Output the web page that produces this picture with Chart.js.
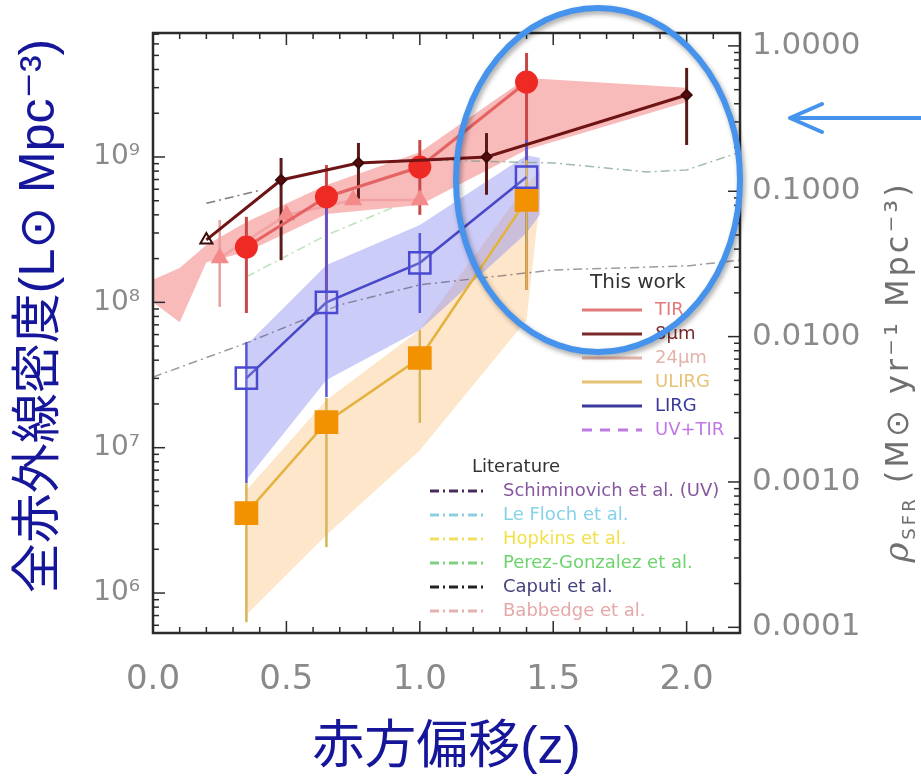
<!DOCTYPE html>
<html>
<head>
<meta charset="utf-8">
<script src="https://cdn.jsdelivr.net/npm/chart.js@4.4.1/dist/chart.umd.min.js"></script>
<style>
  html, body { margin: 0; padding: 0; background: #fff; }
  #wrap { position: relative; width: 921px; height: 782px; }
</style>
</head>
<body>
<div id="wrap"><canvas id="chart" width="921" height="782"></canvas></div>
<script>
// This work: luminosity density per redshift bin (L_sun Mpc^-3)
const zTIR = [0.35, 0.65, 1.0, 1.4];
const lumTIR = [2.40e8, 5.31e8, 8.53e8, 3.28e9];
const lumTIRHi = [3.87e8, 8.8e8, 1.31e9, 5.2e9];
const lumTIRLo = [8.45e7, 1.04e8, 4.0e8, 1.22e8];

const z8um = [0.2, 0.48, 0.77, 1.0, 1.25, 2.0];
const lum8um = [2.69e8, 6.95e8, 9.1e8, 9.5e8, 1.0e9, 2.67e9];
const lum8umHi = [null, 9.84e8, 1.25e9, null, 1.46e9, 4.1e9];
const lum8umLo = [null, 1.95e8, 4.8e8, null, 5.5e8, 1.21e9];

const z24um = [0.25, 0.5, 0.75, 1.0];
const lum24um = [2.02e8, 3.99e8, 5.06e8, 5.06e8];
const lum24umHi = [3.69e8, null, null, null];
const lum24umLo = [9.3e7, null, null, null];

const zIR = [0.35, 0.65, 1.0, 1.4];
const lumLIRG = [3.01e7, 1.0e8, 1.87e8, 7.28e8];
const lumLIRGHi = [5.33e7, 4.5e8, 3.0e8, 1.31e9];
const lumLIRGLo = [5.71e6, 2.23e7, 8.45e7, 2.48e8];
const lumULIRG = [3.55e6, 1.5e7, 4.14e7, 5.06e8];
const lumULIRGHi = [5.7e6, 2.2e7, 6.46e7, 9.5e8];
const lumULIRGLo = [6.3e5, 2.07e6, 1.48e7, 1.22e8];

// shaded uncertainty regions
const zBandTIR = [0, 0.1, 0.2, 0.35, 0.65, 1.0, 1.4, 2.0];
const bandTIRHi = [1.43e8, 1.72e8, 2.48e8, 3.57e8, 6.41e8, 1.08e9, 3.5e9, 2.99e9];
const bandTIRLo = [1.0e8, 7.3e7, 1.89e8, 2.22e8, 4.06e8, 4.68e8, 1.12e9, 2.39e9];
const zBandIR = [0.35, 0.65, 1.0, 1.4, 1.45];
const bandLIRGHi = [5.08e7, 1.81e8, 3.4e8, 1.03e9, 9.84e8];
const bandLIRGLo = [6.0e6, 2.92e7, 6.46e7, 3.0e8, 4.0e8];
const bandULIRGHi = [5.1e6, 2.13e7, 6.46e7, 6.4e8, 8.15e8];
const bandULIRGLo = [7.1e5, 2.51e6, 9.6e6, 7.55e7, 5.06e8];

// literature curves
const zSchim = [0, 0.35, 0.7, 1.0, 1.5, 2.0, 2.2];
const lumSchim = [3.06e7, 5.25e7, 9.6e7, 1.32e8, 1.67e8, 1.78e8, 1.95e8];
const zLeFloch = [1.05, 1.5, 1.85, 2.0, 2.2];
const lumLeFloch = [9.5e8, 9.1e8, 7.9e8, 8.15e8, 1.08e9];
const zCaputi = [0.2, 0.4];
const lumCaputi = [4.8e8, 5.9e8];
const zPerez = [0.35, 0.65, 0.9];
const lumPerez = [1.5e8, 2.9e8, 4.5e8];

// axes
const xTickValues = [0, 0.5, 1.0, 1.5, 2.0];
const xTickLabels = ['0.0', '0.5', '1.0', '1.5', '2.0'];
const yTickValues = [1e6, 1e7, 1e8, 1e9];
const yTickLabels = ['10\u2076', '10\u2077', '10\u2078', '10\u2079'];
const sfrTickValues = [1e-4, 1e-3, 1e-2, 1e-1, 1];
const sfrTickLabels = ['0.0001', '0.0010', '0.0100', '0.1000', '1.0000'];

// legend text
const workLabels = ['TIR', '8\u00b5m', '24\u00b5m', 'ULIRG', 'LIRG', 'UV+TIR'];
const workColors = ['#e07a7a', '#7a2a2a', '#e2b4aa', '#e6c274', '#3a3a9c', '#c078e6'];
const litLabels = ['Schiminovich et al. (UV)', 'Le Floch et al.', 'Hopkins et al.', 'Perez-Gonzalez et al.', 'Caputi et al.', 'Babbedge et al.'];
const litColors = ['#86579e', '#86d2e8', '#f2e04a', '#6cd46c', '#43437e', '#e6a8a8'];
const litLineColors = ['#4a2a5a', '#8ccfe0', '#f0e060', '#80d080', '#222222', '#e6b0b0'];

const TICK_FONT = 'DejaVu Sans';
const TITLE_FONT = '"Liberation Sans", "DejaVu Sans", "Noto Sans CJK JP", sans-serif';
const TITLE_COLOR = '#16169a';
const Y_TITLE = '全赤外線密度(L\u2299 Mpc\u207b\u00b3)';

function series(label, xs, ys, extra) {
    return Object.assign({
        label: label,
        data: xs.map((x, i) => ({ x: x, y: ys[i] })),
        showLine: true,
        fill: false,
        tension: 0,
        pointRadius: 0,
        borderWidth: 2,
        borderColor: 'rgba(0,0,0,0)'
    }, extra);
}

function errorBars(xs, lo, hi, color, width) {
    const out = [];
    xs.forEach((x, i) => {
        if (lo[i] == null) return;
        out.push(series('err', [x, x], [lo[i], hi[i]], { borderColor: color, borderWidth: width, order: 6 }));
    });
    return out;
}

const dash = [9, 4, 2, 4];

const datasets = [
    // bands (upper fills down to the next dataset)
    series('TIR band', zBandTIR, bandTIRHi, { fill: '+1', backgroundColor: 'rgba(243,118,118,0.5)', borderWidth: 0, order: 20 }),
    series('TIR band lo', zBandTIR, bandTIRLo, { borderWidth: 0, order: 20 }),
    series('LIRG band', zBandIR, bandLIRGHi, { fill: '+1', backgroundColor: 'rgba(142,142,240,0.45)', borderWidth: 0, order: 21 }),
    series('LIRG band lo', zBandIR, bandLIRGLo, { borderWidth: 0, order: 21 }),
    series('ULIRG band', zBandIR, bandULIRGHi, { fill: '+1', backgroundColor: 'rgba(252,200,140,0.45)', borderWidth: 0, order: 22 }),
    series('ULIRG band lo', zBandIR, bandULIRGLo, { borderWidth: 0, order: 22 }),

    // literature
    series('Schiminovich', zSchim, lumSchim, { borderColor: 'rgba(80,70,90,0.55)', borderWidth: 1.5, borderDash: dash, order: 10 }),
    series('Le Floch', zLeFloch, lumLeFloch, { borderColor: 'rgba(120,160,140,0.7)', borderWidth: 1.5, borderDash: dash, order: 10 }),
    series('Caputi', zCaputi, lumCaputi, { borderColor: 'rgba(40,40,40,0.6)', borderWidth: 1.5, borderDash: dash, order: 10 }),
    series('Perez-Gonzalez', zPerez, lumPerez, { borderColor: 'rgba(120,200,120,0.5)', borderWidth: 1.5, borderDash: dash, order: 10 }),

    // error bars
    ...errorBars(zIR, lumULIRGLo, lumULIRGHi, '#d8b458', 2.5),
    ...errorBars(zIR, lumLIRGLo, lumLIRGHi, '#5656d6', 2.5),
    ...errorBars(z24um, lum24umLo, lum24umHi, '#e6a0a0', 2.5),
    ...errorBars(zTIR, lumTIRLo, lumTIRHi, '#c84848', 3),
    ...errorBars(z8um, lum8umLo, lum8umHi, '#5a1a1a', 3),

    // this work
    series('ULIRG', zIR, lumULIRG, { borderColor: '#e4b23e', borderWidth: 2.5, pointRadius: 15, pointStyle: 'rect', pointBackgroundColor: '#f39200', pointBorderColor: '#f39200', order: 4 }),
    series('LIRG', zIR, lumLIRG, { borderColor: '#4848c8', borderWidth: 2.5, pointRadius: 15, pointStyle: 'rect', pointBackgroundColor: 'rgba(255,255,255,0.15)', pointBorderColor: '#4a4ad0', pointBorderWidth: 2.5, order: 3 }),
    series('24um', z24um, lum24um, { borderColor: '#f2a2a2', borderWidth: 2.5, pointRadius: 8, pointStyle: 'triangle', pointBackgroundColor: '#f48a8a', pointBorderColor: '#f48a8a', order: 3 }),
    series('TIR', zTIR, lumTIR, { borderColor: '#e46464', borderWidth: 3, pointRadius: 10, pointBackgroundColor: '#ee2a24', pointBorderColor: '#ee2a24', order: 2 }),
    series('8um', z8um, lum8um, { borderColor: '#6e1414', borderWidth: 3, pointRadius: [7, 5, 5, 0, 5, 5], pointStyle: ['triangle', 'rectRot', 'rectRot', 'rectRot', 'rectRot', 'rectRot'], pointBackgroundColor: ['rgba(0,0,0,0)', '#5a0a0a', '#5a0a0a', '#5a0a0a', '#5a0a0a', '#5a0a0a'], pointBorderColor: '#3a0a0a', pointBorderWidth: 2, order: 1 })
];

const frameTicks = {
    id: 'frameTicks',
    afterDatasetsDraw(chart) {
        const { ctx, chartArea: a, scales } = chart;
        ctx.save();
        ctx.strokeStyle = '#2b2b2b';
        ctx.lineWidth = 1.5;
        for (let k = 0; k <= 22; k++) {
            const px = scales.x.getPixelForValue(k / 10);
            const len = k % 5 === 0 ? 12 : 6;
            ctx.beginPath();
            ctx.moveTo(px, a.bottom); ctx.lineTo(px, a.bottom - len);
            ctx.moveTo(px, a.top); ctx.lineTo(px, a.top + len);
            ctx.stroke();
        }
        const logTicks = (scale, x0, dir, dMin, dMax) => {
            for (let d = dMin; d <= dMax; d++) {
                for (let m = 1; m <= 9; m++) {
                    const v = m * Math.pow(10, d);
                    if (v < scale.min || v > scale.max) continue;
                    const py = scale.getPixelForValue(v);
                    const len = m === 1 ? 12 : 6;
                    ctx.beginPath();
                    ctx.moveTo(x0, py); ctx.lineTo(x0 + dir * len, py);
                    ctx.stroke();
                }
            }
        };
        logTicks(scales.y, a.left, 1, 5, 9);
        logTicks(scales.y2, a.right, -1, -5, 0);
        ctx.lineWidth = 2.5;
        ctx.strokeRect(a.left, a.top, a.right - a.left, a.bottom - a.top);
        ctx.restore();
    }
};

const overlay = {
    id: 'overlay',
    afterDraw(chart) {
        const { ctx, chartArea: a } = chart;
        ctx.save();

        // legend: this work
        ctx.textBaseline = 'middle';
        ctx.font = '20px DejaVu Sans';
        ctx.fillStyle = '#333';
        ctx.fillText('This work', a.left + 437, a.top + 250);
        ctx.font = '18px DejaVu Sans';
        workLabels.forEach((lab, i) => {
            const y = a.top + 277 + i * 24;
            ctx.strokeStyle = workColors[i];
            ctx.lineWidth = 3;
            ctx.setLineDash(i === 5 ? [10, 8] : []);
            ctx.beginPath(); ctx.moveTo(a.left + 429, y); ctx.lineTo(a.left + 489, y); ctx.stroke();
            ctx.fillStyle = workColors[i];
            ctx.fillText(lab, a.left + 502, y);
        });

        // legend: literature
        ctx.save();
        ctx.beginPath();
        ctx.rect(a.left, a.top, a.right - a.left - 1, a.bottom - a.top);
        ctx.clip();
        ctx.fillStyle = '#333';
        ctx.font = '18px DejaVu Sans';
        ctx.fillText('Literature', a.left + 319, a.top + 434);
        litLabels.forEach((lab, i) => {
            const y = a.top + 458 + i * 24;
            ctx.strokeStyle = litLineColors[i];
            ctx.lineWidth = 3;
            ctx.setLineDash([9, 4, 2, 4]);
            ctx.beginPath(); ctx.moveTo(a.left + 277, y); ctx.lineTo(a.left + 330, y); ctx.stroke();
            ctx.fillStyle = litColors[i];
            ctx.fillText(lab, a.left + 350, y);
        });
        ctx.restore();
        ctx.setLineDash([]);

        // left axis title (reads bottom to top)
        ctx.save();
        ctx.translate(40, 316);
        ctx.rotate(-Math.PI / 2);
        ctx.fillStyle = TITLE_COLOR;
        ctx.textAlign = 'center';
        ctx.textBaseline = 'middle';
        ctx.font = '50px ' + TITLE_FONT;
        ctx.fillText(Y_TITLE, 0, 0);
        ctx.restore();

        // right axis title (reads bottom to top)
        ctx.save();
        ctx.translate(897, 372);
        ctx.rotate(-Math.PI / 2);
        ctx.fillStyle = '#707070';
        ctx.textBaseline = 'alphabetic';
        ctx.letterSpacing = '3px';
        const parts = [
            { t: '\u03c1', f: 'italic 34px DejaVu Serif', dy: 0 },
            { t: 'SFR', f: '18px DejaVu Sans', dy: 7 },
            { t: ' (M\u2299 yr\u207b\u00b9 Mpc\u207b\u00b3)', f: '32px DejaVu Sans', dy: 0 }
        ];
        let total = 0;
        parts.forEach(p => { ctx.font = p.f; p.w = ctx.measureText(p.t).width; total += p.w; });
        let x = -total / 2;
        parts.forEach(p => { ctx.font = p.f; ctx.fillText(p.t, x, 11 + p.dy); x += p.w; });
        ctx.restore();

        // highlight ellipse and arrow
        ctx.save();
        ctx.shadowColor = 'rgba(0,0,0,0.35)';
        ctx.shadowBlur = 5;
        ctx.shadowOffsetX = 2;
        ctx.shadowOffsetY = 3;
        ctx.strokeStyle = '#4593ec';
        ctx.lineWidth = 6;
        ctx.beginPath();
        ctx.ellipse(598, 180, 142, 172, 0, 0, Math.PI * 2);
        ctx.stroke();
        ctx.restore();

        ctx.strokeStyle = '#4593ec';
        ctx.lineWidth = 4;
        ctx.lineCap = 'round';
        ctx.lineJoin = 'round';
        ctx.beginPath();
        ctx.moveTo(921, 118); ctx.lineTo(790, 118);
        ctx.moveTo(822, 104); ctx.lineTo(790, 118); ctx.lineTo(822, 132);
        ctx.stroke();
        ctx.restore();
    }
};

new Chart(document.getElementById('chart').getContext('2d'), {
    type: 'line',
    data: { datasets: datasets },
    plugins: [frameTicks, overlay],
    options: {
        responsive: false,
        animation: false,
        layout: { padding: { top: 33, left: 0, right: 0, bottom: 0 } },
        plugins: { legend: { display: false }, tooltip: { enabled: false } },
        scales: {
            x: {
                type: 'linear', position: 'bottom', min: 0, max: 2.2,
                afterFit: s => { s.height = 149; },
                afterBuildTicks: s => { s.ticks = xTickValues.map(v => ({ value: v })); },
                grid: { display: false, drawTicks: false },
                border: { display: false },
                ticks: {
                    callback: (v, i) => xTickLabels[i],
                    color: '#8a8a8a', font: { family: TICK_FONT, size: 34 },
                    padding: 27, maxRotation: 0, autoSkip: false
                },
                title: {
                    display: true, text: '赤方偏移(z)', color: TITLE_COLOR,
                    font: { family: TITLE_FONT, size: 52 }, padding: { top: 0, bottom: 2 }
                }
            },
            y: {
                type: 'logarithmic', position: 'left', min: 5.31e5, max: 7.13e9,
                afterFit: s => { s.width = 153; },
                afterBuildTicks: s => { s.ticks = yTickValues.map(v => ({ value: v })); },
                grid: { display: false, drawTicks: false },
                border: { display: false },
                ticks: {
                    callback: (v, i) => yTickLabels[i],
                    color: '#8a8a8a', font: { family: TICK_FONT, size: 28 },
                    padding: 13, autoSkip: false
                }
            },
            y2: {
                type: 'logarithmic', position: 'right', min: 9.14e-5, max: 1.227,
                afterFit: s => { s.width = 181; },
                afterBuildTicks: s => { s.ticks = sfrTickValues.map(v => ({ value: v })); },
                grid: { display: false, drawTicks: false },
                border: { display: false },
                ticks: {
                    callback: (v, i) => sfrTickLabels[i],
                    color: '#8a8a8a', font: { family: TICK_FONT, size: 31 },
                    padding: 12, autoSkip: false
                }
            }
        }
    }
});
</script>
</body>
</html>
